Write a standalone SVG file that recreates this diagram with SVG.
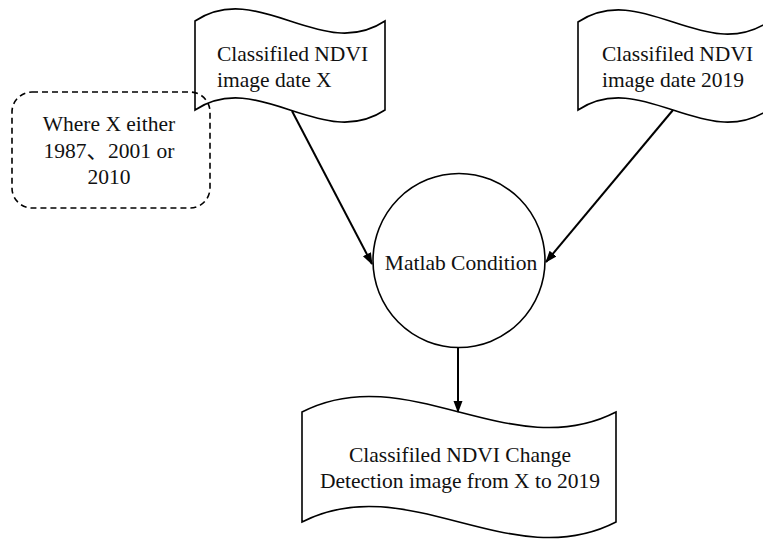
<svg xmlns="http://www.w3.org/2000/svg" width="763" height="540" viewBox="0 0 763 540">
<style>
.shape{fill:#fff;stroke:#000;stroke-width:1.6}
.lbl{font-family:"Liberation Serif","Noto Sans CJK SC",serif;font-size:21.5px;fill:#111}
.mid{text-anchor:middle}
.conn{stroke:#000;stroke-width:2;fill:none}
.dash{fill:none;stroke:#000;stroke-width:1.6;stroke-dasharray:6 4}
</style>
<defs>
<marker id="arr" markerUnits="userSpaceOnUse" markerWidth="12" markerHeight="10" refX="11" refY="4.5" orient="auto">
<path d="M0,0 L12,4.5 L0,9 Z" fill="#000"/>
</marker>
</defs>
<rect width="763" height="540" fill="#fff"/>
<g id="nodeX">
<path class="shape" d="M195,21 C258,-21 322,63 385,21 L385,110 C322,152 258,68 195,110 Z"/>
<text class="lbl" x="217" y="61">Classifiled NDVI</text>
<text class="lbl" x="217" y="87">image date X</text>
</g>
<g id="note">
<rect class="dash" x="12" y="92" width="198" height="116" rx="20" ry="20"/>
<text class="lbl mid" x="109" y="131">Where X either</text>
<text class="lbl mid" x="109" y="158">1987、2001 or</text>
<text class="lbl mid" x="109" y="184">2010</text>
</g>
<g id="node2019">
<path class="shape" d="M578,22 C641,-20 705,64 768,22 L768,110 C705,152 641,68 578,110 Z"/>
<text class="lbl" x="602" y="61">Classifiled NDVI</text>
<text class="lbl" x="602" y="87">image date 2019</text>
</g>
<g id="matlab">
<ellipse class="shape" cx="459" cy="260.5" rx="86" ry="87"/>
<text class="lbl mid" x="461" y="270">Matlab Condition</text>
</g>
<g id="result">
<path class="shape" d="M302,412 C407,358 511,466 616,412 L616,522 C511,576 407,468 302,522 Z"/>
<text class="lbl mid" x="460" y="462">Classifiled NDVI Change</text>
<text class="lbl mid" x="460" y="488">Detection image from X to 2019</text>
</g>
<g id="connectors">
<path class="conn" d="M292,111 L372,264" marker-end="url(#arr)"/>
<path class="conn" d="M673,110 L546,262" marker-end="url(#arr)"/>
<path class="conn" d="M458,348 L458,412" marker-end="url(#arr)"/>
</g>
</svg>
